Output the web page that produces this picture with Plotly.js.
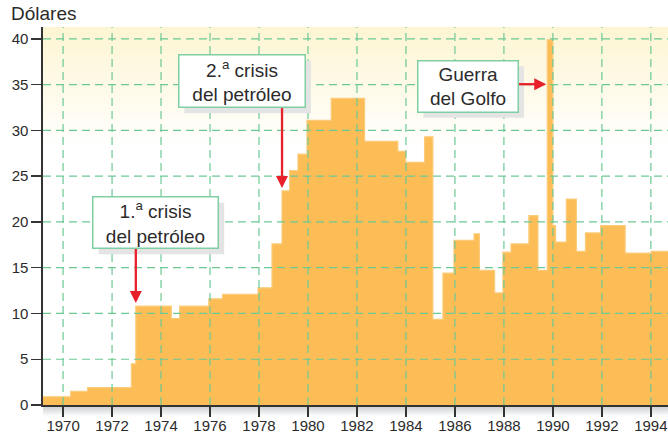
<!DOCTYPE html>
<html>
<head>
<meta charset="utf-8">
<script src="https://cdn.plot.ly/plotly-3.0.1.min.js"></script>
<style>html,body{margin:0;padding:0;background:#fff;}#chart{width:668px;height:439px;}</style>
</head>
<body>
<div id="chart"></div>
<script>
// Step boundaries (year where each price level starts) and oil price in dollars
const periodStart = [1969.18, 1970.31, 1971.0, 1972.79, 1972.97, 1974.42, 1974.76, 1975.95, 1976.51, 1977.96,
  1978.53, 1978.94, 1979.25, 1979.59, 1979.96, 1980.95, 1982.31, 1983.67, 1983.99, 1984.76,
  1985.10, 1985.51, 1985.96, 1986.78, 1987.0, 1987.62, 1987.96, 1988.29, 1989.02, 1989.39,
  1989.77, 1990.0, 1990.11, 1990.55, 1990.96, 1991.33, 1991.95, 1992.95, 1994.02, 1994.7];
const priceUSD = [0.9, 1.5, 1.9, 4.5, 10.8, 9.45, 10.8, 11.6, 12.1, 12.8,
  17.6, 23.4, 25.6, 27.4, 31.1, 33.5, 28.8, 27.7, 26.5, 29.3,
  9.35, 14.4, 18.0, 18.7, 14.7, 12.25, 16.7, 17.6, 20.7, 14.7,
  39.9, 19.6, 17.8, 22.5, 16.8, 18.8, 19.6, 16.6, 16.8, 16.8];

const xTickVals = [1970, 1972, 1974, 1976, 1978, 1980, 1982, 1984, 1986, 1988, 1990, 1992, 1994];
const xTickText = ["1970", "1972", "1974", "1976", "1978", "1980", "1982", "1984", "1986", "1988", "1990", "1992", "1994"];
const yTickVals = [0, 5, 10, 15, 20, 25, 30, 35, 40];
const yTickText = ["0", "5", "10", "15", "20", "25", "30", "35", "40"];

const yTitle = "Dólares";
const notes = [
  {text: "1.<sup>a</sup> crisis<br>del petróleo", x: 1973.78, y: 19.9, w: 124, h: 50},
  {text: "2.<sup>a</sup> crisis<br>del petróleo", x: 1977.30, y: 35.38, w: 125, h: 51},
  {text: "Guerra<br>del Golfo", x: 1986.53, y: 34.84, w: 99, h: 50}
];
// arrow tips (data) and tail offsets in pixels (dy positive = up)
const arrows = [
  {x: 1972.97, y: 11.15, dx: 0, dy: 54},
  {x: 1978.94, y: 23.7, dx: 0, dy: 80},
  {x: 1989.73, y: 35.05, dx: -28, dy: 0}
];

const FONT = "Liberation Sans, Arial, Helvetica, sans-serif";
const GRID = "#6cc995";
const RED = "#e8202a";

function svgUri(svg){ return "data:image/svg+xml;charset=utf-8," + encodeURIComponent(svg); }
const topGrad = svgUri("<svg xmlns='http://www.w3.org/2000/svg' width='100' height='100' preserveAspectRatio='none'><defs><linearGradient id='g' x1='0' y1='0' x2='0' y2='1'><stop offset='0' stop-color='#fdf5d2'/><stop offset='0.32' stop-color='#ffffff'/></linearGradient></defs><rect width='100' height='100' fill='url(#g)'/></svg>");
const botGrad = svgUri("<svg xmlns='http://www.w3.org/2000/svg' width='100' height='100' preserveAspectRatio='none'><defs><linearGradient id='g' x1='0' y1='0' x2='0' y2='1'><stop offset='0' stop-color='#c6c9cc'/><stop offset='1' stop-color='#ffffff'/></linearGradient></defs><rect width='100' height='100' fill='url(#g)'/></svg>");

const shapes = [];
xTickVals.forEach(v => shapes.push({type: "line", xref: "x", yref: "paper", x0: v, x1: v, y0: 0, y1: 1,
  line: {color: GRID, width: 1.2, dash: "8px,5px"}, layer: "above"}));
yTickVals.filter(v => v > 0).forEach(v => shapes.push({type: "line", xref: "paper", yref: "y", x0: 0, x1: 1, y0: v, y1: v,
  line: {color: GRID, width: 1.2, dash: "8px,5px"}, layer: "above"}));
// drop shadows of the boxes
notes.forEach(n => shapes.push({type: "rect", xref: "x", yref: "y", xsizemode: "pixel", ysizemode: "pixel",
  xanchor: n.x, yanchor: n.y, x0: -n.w / 2 + 5, x1: n.w / 2 + 6.5, y0: -n.h / 2 - 6.5, y1: n.h / 2 - 5,
  fillcolor: "#e4e4e4", line: {width: 0}, layer: "above"}));
// red arrows
arrows.forEach(a => {
  const len = Math.hypot(a.dx, a.dy), ux = a.dx / len, uy = a.dy / len;
  const head = 12, half = 6;
  shapes.push({type: "line", xref: "x", yref: "y", xsizemode: "pixel", ysizemode: "pixel",
    xanchor: a.x, yanchor: a.y, x0: a.dx, y0: a.dy, x1: ux * (head - 1), y1: uy * (head - 1),
    line: {color: RED, width: 2.3}, layer: "above"});
  const bx = ux * head, by = uy * head, px = -uy * half, py = ux * half;
  shapes.push({type: "path", xref: "x", yref: "y", xsizemode: "pixel", ysizemode: "pixel",
    xanchor: a.x, yanchor: a.y,
    path: `M${bx + px},${by + py} L${bx - px},${by - py} L0,0 Z`,
    fillcolor: RED, line: {width: 0}, layer: "above"});
});

const annotations = [];
notes.forEach(n => annotations.push({xref: "x", yref: "y", x: n.x, y: n.y, text: n.text, showarrow: false,
  width: n.w, height: n.h, bgcolor: "#ffffff", bordercolor: "#7fcfa2",
  borderwidth: 1.5, borderpad: 0, font: {family: FONT, size: 19, color: "#2b2b2b"}}));
annotations.push({xref: "paper", yref: "paper", x: -0.0545, y: 1.036, xanchor: "left", yanchor: "middle",
  text: yTitle, showarrow: false, font: {family: FONT, size: 19, color: "#2b2b2b"}});

const trace = {
  x: periodStart, y: priceUSD, type: "scatter", mode: "lines",
  line: {shape: "hv", color: "#fccb7a", width: 1.2},
  fill: "tozeroy", fillcolor: "#fcbd56", hoverinfo: "skip"
};

const layout = {
  width: 668, height: 439,
  margin: {l: 43, r: 0, t: 27, b: 34},
  paper_bgcolor: "#ffffff", plot_bgcolor: "rgba(0,0,0,0)",
  showlegend: false,
  font: {family: FONT, size: 15, color: "#2b2b2b"},
  xaxis: {range: [1969.18, 1994.7], tickmode: "array", tickvals: xTickVals, ticktext: xTickText,
    showgrid: false, zeroline: false, showline: true, linecolor: "#333", linewidth: 1.6,
    ticks: "outside", ticklen: 10, tickwidth: 1.4, tickcolor: "#333", ticklabelstandoff: -4,
    tickfont: {family: FONT, size: 15, color: "#2b2b2b"}, fixedrange: true, layer: "above traces"},
  yaxis: {range: [0, 41.3], tickmode: "array", tickvals: yTickVals, ticktext: yTickText,
    showgrid: false, zeroline: false, showline: true, linecolor: "#333", linewidth: 1.6,
    ticks: "outside", ticklen: 10, tickwidth: 1.4, tickcolor: "#333",
    tickfont: {family: FONT, size: 15, color: "#2b2b2b"}, fixedrange: true, layer: "above traces"},
  images: [
    {source: topGrad, xref: "paper", yref: "paper", x: 0, y: 1, sizex: 1, sizey: 1,
      xanchor: "left", yanchor: "top", sizing: "stretch", layer: "below"},
    {source: botGrad, xref: "paper", yref: "paper", x: 0, y: 0, sizex: 1, sizey: 0.03,
      xanchor: "left", yanchor: "top", sizing: "stretch", layer: "below"}
  ],
  shapes: shapes,
  annotations: annotations
};

Plotly.newPlot("chart", [trace], layout, {displayModeBar: false, staticPlot: true});
</script>
</body>
</html>
